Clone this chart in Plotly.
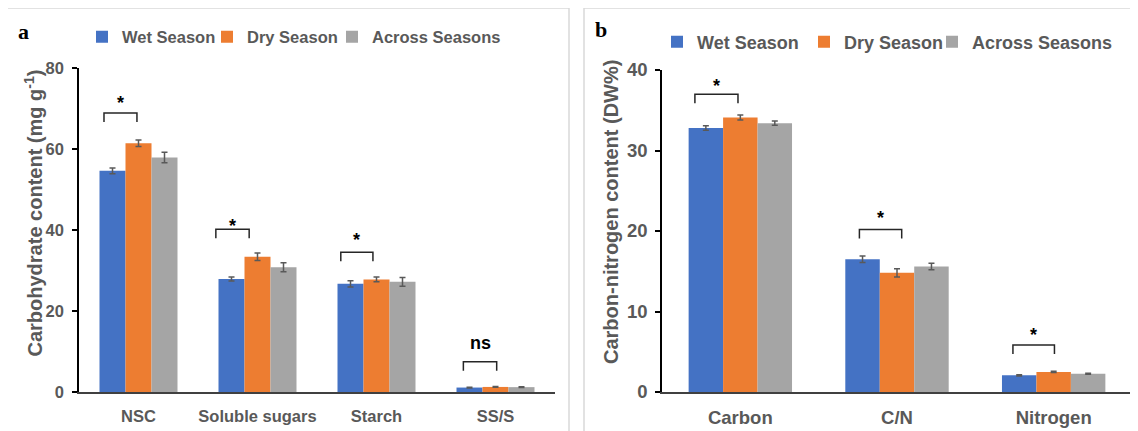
import plotly.graph_objects as go

W, H = 1138, 431

series_names = ["Wet Season", "Dry Season", "Across Seasons"]
colors = ["#4472C4", "#ED7D31", "#A5A5A5"]

# Panel a: carbohydrates (mg g-1)
carb_categories = ["NSC", "Soluble sugars", "Starch", "SS/S"]
carb_wet = [54.6, 27.9, 26.7, 1.1]
carb_dry = [61.4, 33.4, 27.8, 1.25]
carb_across = [57.9, 30.8, 27.2, 1.2]
carb_wet_err = [0.7, 0.5, 0.8, 0.1]
carb_dry_err = [0.8, 0.9, 0.6, 0.1]
carb_across_err = [1.3, 1.1, 1.1, 0.1]
carb_sig = ["*", "*", "*", "ns"]

# Panel b: carbon / nitrogen (DW%)
cn_categories = ["Carbon", "C/N", "Nitrogen"]
cn_wet = [32.8, 16.5, 2.07]
cn_dry = [34.1, 14.8, 2.5]
cn_across = [33.4, 15.6, 2.27]
cn_wet_err = [0.27, 0.4, 0.07]
cn_dry_err = [0.3, 0.5, 0.07]
cn_across_err = [0.25, 0.4, 0.07]
cn_sig = ["*", "*", "*"]

# significance bracket layout (bracket top level in axis units, horizontal span relative to category,
# label lift in px above the bracket)
carb_bracket_level = [68.9, 40.2, 34.5, 7.5]
carb_bracket_span = [(-0.29, -0.013), (-0.35, -0.07), (-0.30, -0.03), (-0.27, 0.01)]
carb_label_shift = [-2, -9, 0, 7]
cn_bracket_level = [37.0, 20.2, 5.84]
cn_bracket_span = [(-0.29, -0.015), (-0.24, 0.03), (-0.26, 0.005)]
cn_label_shift = [-4, -1, -2]

SANS = "Liberation Sans, Arial, sans-serif"
SERIF = "Liberation Serif, Times New Roman, serif"
TXT = "#595959"
FA = 16.5   # panel a text size
FB = 18.5   # panel b text size

OFF = 8  # page offset of the figure inside the browser window


def fx(v):
    return (v - OFF) / W


def fy(v):
    return 1 - (v - OFF) / H


fig = go.Figure()

panels = [
    dict(cats=carb_categories, vals=[carb_wet, carb_dry, carb_across],
         errs=[carb_wet_err, carb_dry_err, carb_across_err],
         xa="x", ya="y", legend="legend", width=0.2185,
         lw=[80, 80, 140]),
    dict(cats=cn_categories, vals=[cn_wet, cn_dry, cn_across],
         errs=[cn_wet_err, cn_dry_err, cn_across_err],
         xa="x2", ya="y2", legend="legend2", width=0.22,
         lw=[102, 83, 150]),
]

for p in panels:
    w = p["width"]
    xs = list(range(len(p["cats"])))
    for i, (name, col) in enumerate(zip(series_names, colors)):
        fig.add_trace(go.Bar(
            x=xs, y=p["vals"][i], name=name,
            marker=dict(color=col, line=dict(width=0)),
            width=w, offset=-1.5 * w + i * w,
            error_y=dict(type="data", array=p["errs"][i], color=TXT, thickness=1.5, width=3),
            xaxis=p["xa"], yaxis=p["ya"], legend=p["legend"],
            legendwidth=p["lw"][i],
        ))

fig.update_layout(
    width=W, height=H,
    margin=dict(l=0, r=0, t=0, b=0, autoexpand=False),
    paper_bgcolor="white", plot_bgcolor="white",
    showlegend=True,
    xaxis=dict(domain=[fx(79), fx(555)], range=[-0.5, 3.5],
               tickvals=list(range(4)), ticktext=carb_categories,
               showline=True, linecolor="#404040", linewidth=2,
               ticks="", showgrid=False, zeroline=False, ticklabelstandoff=8,
               tickfont=dict(family=SANS, size=FA, color=TXT, weight="bold"), anchor="y"),
    yaxis=dict(domain=[fy(392), fy(68)], range=[0, 80], dtick=20,
               showline=True, linecolor="black", linewidth=1.5,
               ticks="outside", ticklen=5, tickcolor="black", tickwidth=1.5,
               showgrid=False, zeroline=False, anchor="x", ticklabelstandoff=5,
               tickfont=dict(family=SANS, size=FA, color=TXT, weight="bold")),
    xaxis2=dict(domain=[fx(662), fx(1132)], range=[-0.5, 2.5],
                tickvals=list(range(3)), ticktext=cn_categories,
                showline=True, linecolor="#404040", linewidth=2,
                ticks="", showgrid=False, zeroline=False, ticklabelstandoff=8,
                tickfont=dict(family=SANS, size=FB, color=TXT, weight="bold"), anchor="y2"),
    yaxis2=dict(domain=[fy(392), fy(70)], range=[0, 40], dtick=10,
                showline=True, linecolor="black", linewidth=1.5,
                ticks="outside", ticklen=5, tickcolor="black", tickwidth=1.5,
                showgrid=False, zeroline=False, anchor="x2", ticklabelstandoff=4,
                tickfont=dict(family=SANS, size=FB, color=TXT, weight="bold")),
    legend=dict(orientation="h", x=fx(122 - 40), y=fy(37), xanchor="left", yanchor="middle",
                entrywidthmode="pixels", bgcolor="rgba(0,0,0,0)",
                font=dict(family=SANS, size=FA, color=TXT, weight="bold")),
    legend2=dict(orientation="h", x=fx(697 - 40), y=fy(42), xanchor="left", yanchor="middle",
                 entrywidthmode="pixels", bgcolor="rgba(0,0,0,0)",
                 font=dict(family=SANS, size=18, color=TXT, weight="bold")),
)

shapes = []
annotations = []
# panel borders
shapes.append(dict(type="rect", xref="paper", yref="paper",
                   x0=fx(7), x1=fx(569), y0=-0.05, y1=fy(8),
                   line=dict(color="#d9d9d9", width=1.5), layer="below"))
shapes.append(dict(type="rect", xref="paper", yref="paper",
                   x0=fx(584), x1=1.05, y0=-0.05, y1=fy(8),
                   line=dict(color="#d9d9d9", width=1.5), layer="below"))


def add_brackets(levels, spans, sigs, shifts, xref, yref, leg):
    for c, (lvl, (a, b), s, sh) in enumerate(zip(levels, spans, sigs, shifts)):
        x0, x1 = c + a, c + b
        shapes.append(dict(type="path", xref=xref, yref=yref,
                           path=f"M {x0},{lvl - leg} L {x0},{lvl} L {x1},{lvl} L {x1},{lvl - leg}",
                           line=dict(color="#262626", width=1.5)))
        annotations.append(dict(x=(x0 + x1) / 2, y=lvl, xref=xref, yref=yref, text=s,
                                showarrow=False, yanchor="bottom", yshift=sh,
                                font=dict(family=SANS, size=18, color="black", weight="bold")))


add_brackets(carb_bracket_level, carb_bracket_span, carb_sig, carb_label_shift, "x", "y", 9 / 4.05)
add_brackets(cn_bracket_level, cn_bracket_span, cn_sig, cn_label_shift, "x2", "y2", 9 / 8.05)

# axis titles
annotations.append(dict(x=fx(32.5), y=fy(213), xref="paper", yref="paper",
                        text="Carbohydrate content (mg g<sup>-1</sup>)", textangle=-90,
                        showarrow=False, xanchor="center", yanchor="middle",
                        font=dict(family=SANS, size=20, color=TXT, weight="bold")))
annotations.append(dict(x=fx(611), y=fy(212), xref="paper", yref="paper",
                        text="Carbon-nitrogen content (DW%)", textangle=-90,
                        showarrow=False, xanchor="center", yanchor="middle",
                        font=dict(family=SANS, size=20, color=TXT, weight="bold")))

# panel letters
annotations.append(dict(x=fx(23), y=fy(31), xref="paper", yref="paper", text="a",
                        showarrow=False, xanchor="center", yanchor="middle",
                        font=dict(family=SERIF, size=22, color="black", weight="bold")))
annotations.append(dict(x=fx(601), y=fy(30), xref="paper", yref="paper", text="b",
                        showarrow=False, xanchor="center", yanchor="middle",
                        font=dict(family=SERIF, size=22, color="black", weight="bold")))

fig.update_layout(shapes=shapes, annotations=annotations)
fig.write_html("out.html")
